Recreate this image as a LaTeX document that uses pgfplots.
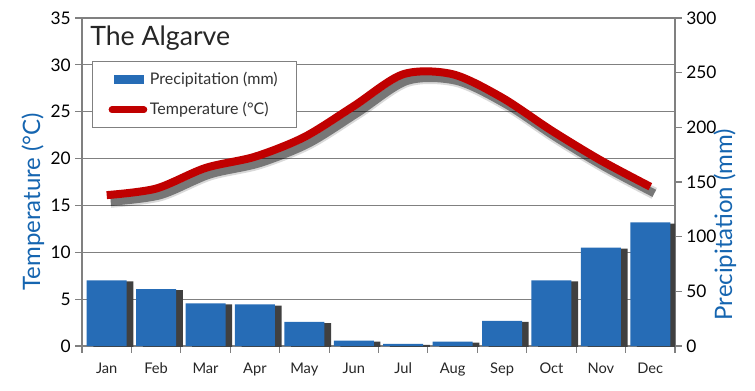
\documentclass[border=0pt]{standalone}
\usepackage{fontspec}
\setmainfont{Lato}
\usepackage{pgfplots}
\usepackage{pgfplotstable}
\pgfplotsset{compat=1.18}
\definecolor{barblue}{RGB}{38,108,182}
\definecolor{labelblue}{RGB}{21,101,176}
\definecolor{tred}{RGB}{192,0,0}
\definecolor{gridgray}{RGB}{128,128,128}
\definecolor{shadowgray}{RGB}{64,64,64}

\pgfplotstableread{
m T P
0 16.1 60
1 16.8 52
2 19.0 39
3 20.2 38
4 22.3 22
5 25.6 5
6 29.0 2
7 29.0 4
8 26.5 23
9 23.0 60
10 19.8 90
11 17.0 113
}\climate

\begin{document}
\begin{tikzpicture}
\useasboundingbox (-61.5pt,-33pt) rectangle (504.75pt,259.5pt);
\pgfplotsset{
  common/.style={width=444.75pt, height=246pt, scale only axis,
    xmin=-0.5, xmax=11.5,
    /pgf/number format/assume math mode=true,
    axis line style={gridgray, line width=0.8pt},
    tick style={gridgray, line width=0.8pt},
    tick align=outside, major tick length=5pt, minor tick length=5pt},
}
% temperature frame with grid
\begin{axis}[common, ymin=0, ymax=35, ytick={0,5,...,35},
  axis y line*=left, axis x line=none,
  ymajorgrids, grid style={gridgray, line width=0.8pt},
  yticklabel style={font=\fontsize{13}{15}\selectfont, black},
  ylabel={Temperature (°C)},
  ylabel style={font=\fontsize{18}{20}\selectfont, labelblue, at={(rel axis cs:-0.083,0.44)}, anchor=center}]
\end{axis}
% precipitation bars
\begin{axis}[common, ymin=0, ymax=300, ytick={0,50,...,300},
  axis y line*=right, axis x line*=bottom,
  xtick={0,...,11},
  xticklabels={Jan,Feb,Mar,Apr,May,Jun,Jul,Aug,Sep,Oct,Nov,Dec},
  major x tick style={draw=none},
  minor xtick={-0.5,0.5,...,11.5},
  xticklabel style={font=\fontsize{11}{13}\selectfont, black!85, yshift=-4pt},
  yticklabel style={font=\fontsize{13}{15}\selectfont, black},
  ylabel={Precipitation (mm)},
  ylabel style={font=\fontsize{18}{20}\selectfont, labelblue, at={(rel axis cs:1.084,0.37)}, anchor=center}]
\addplot[ybar, bar width=30pt, bar shift=5pt, fill=shadowgray, draw=none, yshift=-0.8pt] table[x=m,y=P]{\climate};
\addplot[ybar, bar width=30pt, bar shift=0pt, fill=barblue, draw=none] table[x=m,y=P]{\climate};
\end{axis}
% temperature line
\begin{axis}[common, ymin=0, ymax=35, hide axis,
  legend style={at={(0.017,0.869)}, anchor=north west, draw=gridgray, line width=0.8pt,
    font=\fontsize{12}{14}\selectfont, text=black!80, row sep=8pt, inner xsep=12pt, inner ysep=6pt},
  legend cell align=left]
\addlegendimage{legend image code/.code={\fill[barblue] (2pt,-3pt) rectangle (24pt,3pt);}}
\addlegendentry{Precipitation (mm)}
\addplot[smooth, line width=9pt, black, opacity=0.15, xshift=3pt, yshift=-5pt, forget plot] table[x=m,y=T]{\climate};
\addplot[smooth, line width=6pt, black, opacity=0.45, xshift=3pt, yshift=-5pt, forget plot] table[x=m,y=T]{\climate};
\addplot[smooth, line width=6pt, tred, legend image code/.code={\draw[line width=5pt, tred, line cap=round] (0pt,0pt) -- (24pt,0pt);}] table[x=m,y=T]{\climate};
\addlegendentry{Temperature (°C)}
\node[anchor=north west, font=\fontsize{20}{22}\selectfont, black!85] at (rel axis cs:0.006,0.99) {The Algarve};
\end{axis}
\end{tikzpicture}
\end{document}
